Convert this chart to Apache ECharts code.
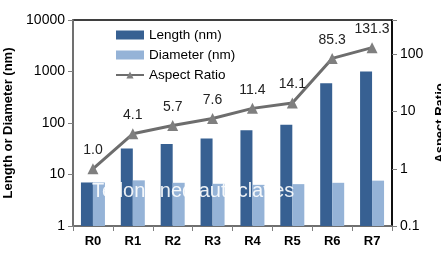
<!DOCTYPE html>
<html>
<head>
<meta charset="utf-8">
<script src="https://cdn.jsdelivr.net/npm/echarts@6/dist/echarts.min.js"></script>
<style>
  html, body { margin: 0; padding: 0; background: #fff; }
  #chart { width: 441px; height: 253px; }
</style>
</head>
<body>
<div id="chart"></div>
<script>
var categories = ['R0', 'R1', 'R2', 'R3', 'R4', 'R5', 'R6', 'R7'];
var lengthNm = [7, 32, 39, 50, 72, 92, 590, 1000];
var diameterNm = [7, 7.7, 6.9, 6.6, 6.3, 6.5, 6.9, 7.6];
var aspectRatio = [1.0, 4.1, 5.7, 7.6, 11.4, 14.1, 85.3, 131.3];

var font = 'Liberation Sans';
var chart = echarts.init(document.getElementById('chart'));

// only label the powers of ten, no thousands separators
var powLabel = function (v) {
    var l = Math.log10(v);
    return Math.abs(l - Math.round(l)) < 1e-6 ? String(Math.round(v * 10) / 10) : '';
};

chart.setOption({
    animation: false,
    textStyle: { fontFamily: font },
    grid: {
        left: 73, right: 49, top: 20, bottom: 27,
        outerBoundsMode: 'none', containLabel: false,
        show: true, borderColor: '#000', borderWidth: 1.5
    },
    legend: {
        left: 110, top: 23, orient: 'vertical', itemGap: 6,
        itemWidth: 28, itemHeight: 9,
        textStyle: { fontFamily: font, fontSize: 13.5, color: '#000' },
        data: [
            { name: 'Length (nm)', icon: 'rect' },
            { name: 'Diameter (nm)', icon: 'rect' },
            { name: 'Aspect Ratio' }
        ]
    },
    xAxis: {
        type: 'category',
        data: categories,
        axisLine: { lineStyle: { color: '#808080', width: 1.5 } },
        axisTick: { show: true, length: 5, lineStyle: { color: '#808080' } },
        axisLabel: { fontFamily: font, fontSize: 13, fontWeight: 'bold', color: '#000', margin: 9 }
    },
    yAxis: [{
        type: 'log', min: 1, max: 10000, interval: 1,
        name: 'Length or Diameter (nm)', nameLocation: 'middle', nameRotate: 90, nameGap: 52,
        nameTextStyle: { fontFamily: font, fontSize: 13, fontWeight: 'bold', color: '#000' },
        axisLine: { show: true, lineStyle: { color: '#808080', width: 1.5 } },
        axisTick: { show: true, length: 5, lineStyle: { color: '#808080' } },
        splitLine: { show: false },
        axisLabel: { fontFamily: font, fontSize: 14, color: '#000', margin: 8, formatter: powLabel }
    }, {
        type: 'log', min: 0.1, max: 400, interval: 1,
        name: 'Aspect Ratio', nameLocation: 'middle', nameRotate: 90, nameGap: 40,
        nameTextStyle: { fontFamily: font, fontSize: 13, fontWeight: 'bold', color: '#000' },
        axisLine: { show: true, lineStyle: { color: '#000', width: 1.5 } },
        axisTick: { show: true, length: 5, lineStyle: { color: '#808080' } },
        splitLine: { show: false },
        axisLabel: { fontFamily: font, fontSize: 14, color: '#000', margin: 8, formatter: powLabel }
    }],
    series: [{
        name: 'Length (nm)', type: 'bar', yAxisIndex: 0, data: lengthNm,
        barWidth: 12, barGap: '0%', itemStyle: { color: '#376092' }
    }, {
        name: 'Diameter (nm)', type: 'bar', yAxisIndex: 0, data: diameterNm,
        barWidth: 12, itemStyle: { color: '#95B3D7' }
    }, {
        name: 'Aspect Ratio', type: 'line', yAxisIndex: 1, data: aspectRatio,
        symbol: 'triangle', symbolSize: 11,
        lineStyle: { color: '#6D6D6D', width: 3 },
        itemStyle: { color: '#7F7F7F' },
        label: {
            show: true, position: 'top', distance: 6,
            fontFamily: font, fontSize: 14, color: '#222',
            formatter: function (p) { return p.value.toFixed(1); }
        },
        z: 5
    }],
    graphic: [{
        type: 'text', left: 92, top: 181, z: 100,
        style: { text: 'Teflon lined autoclaves', fontFamily: font, fontSize: 20, fill: 'rgba(255,255,255,0.9)' }
    }]
});
</script>
</body>
</html>
